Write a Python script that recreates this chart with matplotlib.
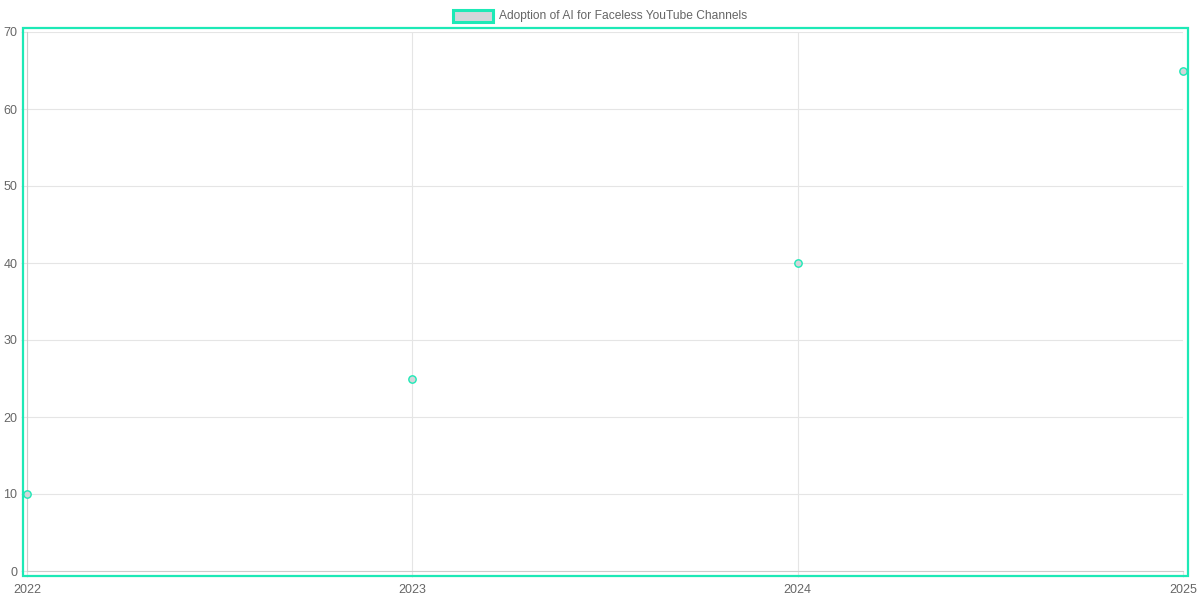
import matplotlib.pyplot as plt
from matplotlib.patches import Rectangle

# datos
years = [2022, 2023, 2024, 2025]
adoption = [10, 25, 40, 65]
y_ticks = [0, 10, 20, 30, 40, 50, 60, 70]
label = 'Adoption of AI for Faceless YouTube Channels'

teal = '#1de9b6'
fill_c = '#d3d6da'
grid_c = '#e5e5e5'
text_c = '#666666'

plt.rcParams['font.family'] = ['Liberation Sans', 'DejaVu Sans']

fig = plt.figure(figsize=(12, 6), dpi=100)
W, H = 1200, 600
ax = fig.add_axes([27 / W, 1 - 571 / H, (1183 - 27) / W, (571 - 32) / H])

ax.scatter(years, adoption, s=28, facecolor=fill_c, edgecolor=teal,
           linewidth=1.0, zorder=3, clip_on=False)

ax.set_xlim(2022, 2025)
ax.set_ylim(0, 70)
ax.set_xticks(years)
ax.set_xticklabels([str(y) for y in years])
ax.set_yticks(y_ticks)
ax.grid(True, color=grid_c, linewidth=0.8)
ax.set_axisbelow(True)
for s in ['top', 'right']:
    ax.spines[s].set_visible(False)
for s in ['left', 'bottom']:
    ax.spines[s].set_color('#cccccc')
    ax.spines[s].set_linewidth(0.8)
ax.tick_params(axis='both', colors=grid_c, length=4.5, width=0.8,
               labelcolor=text_c, labelsize=9)
ax.tick_params(axis='y', pad=2.5)
ax.tick_params(axis='x', pad=5)

# borde verde alrededor del area del grafico
fig.patches.append(Rectangle((23 / W, 1 - 576 / H), (1188 - 23) / W, (576 - 28) / H,
                             transform=fig.transFigure, fill=False,
                             edgecolor=teal, linewidth=1.6, zorder=5))

# leyenda
fig.patches.append(Rectangle((453 / W, 1 - 22 / H), 40 / W, 12 / H,
                             transform=fig.transFigure, facecolor=fill_c,
                             edgecolor=teal, linewidth=2.2))
fig.text(499 / W, 1 - 16.5 / H, label, color=text_c, fontsize=8.65,
         va='center', ha='left')

plt.savefig('out.png')
